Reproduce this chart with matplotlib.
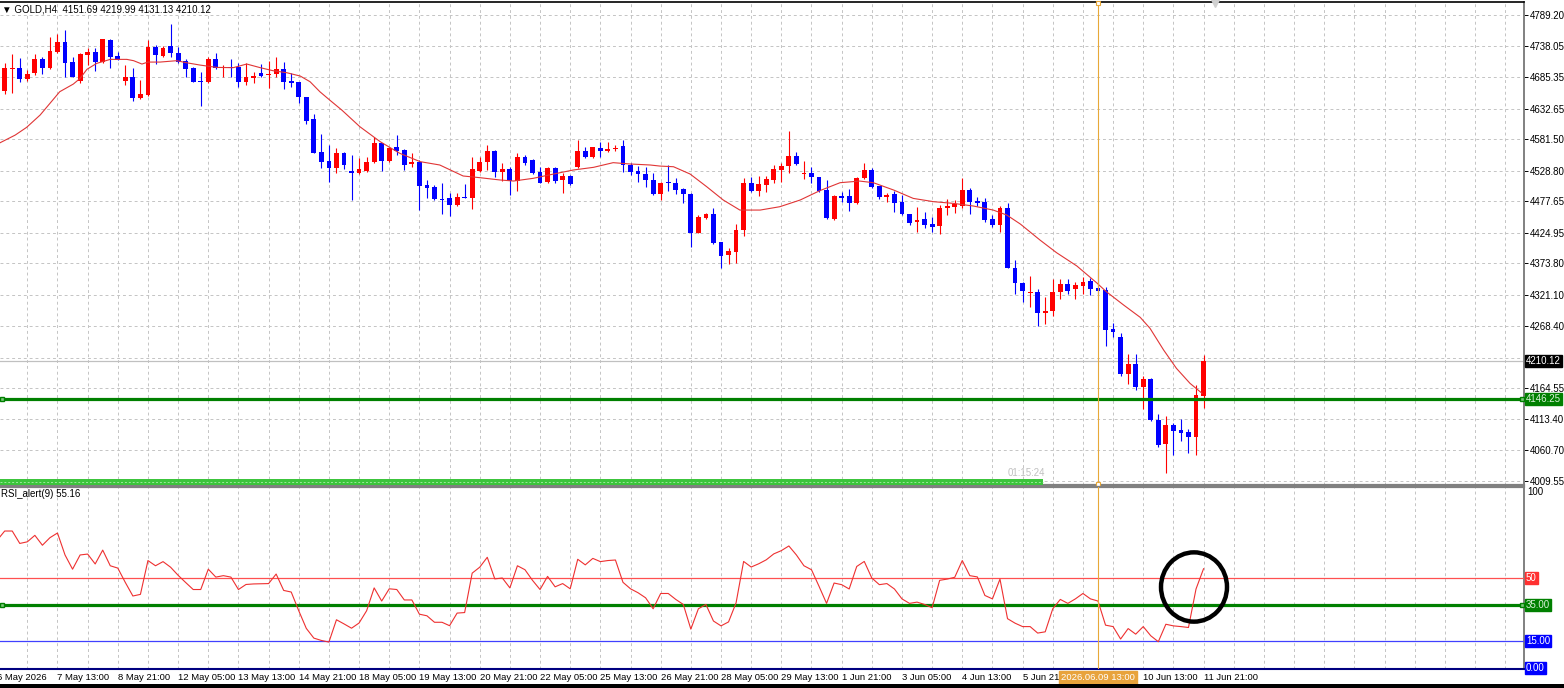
import numpy as np
import matplotlib
matplotlib.use('Agg')
import matplotlib.pyplot as plt
import matplotlib.transforms as mtransforms
from matplotlib.patches import Rectangle, Ellipse

plt.rcParams['font.family'] = ['Liberation Sans', 'DejaVu Sans']

# GOLD H4 candles (oldest first)
opens = [4662.0, 4698.8, 4701.1, 4682.1, 4691.6, 4715.0, 4700.0, 4727.8, 4744.6, 4710.6,
         4678.8, 4722.3, 4727.8, 4711.1, 4747.4, 4720.6, 4679.3, 4684.9, 4650.9, 4655.3,
         4736.2, 4720.6, 4737.3, 4726.2, 4712.8, 4700.0, 4678.8, 4676.5, 4715.0, 4700.0,
         4702.7, 4701.6, 4677.6, 4684.3, 4691.6, 4688.8, 4690.5, 4698.8, 4678.8, 4677.6,
         4651.4, 4614.6, 4559.4, 4545.5, 4532.7, 4558.9, 4528.8, 4524.3, 4528.8, 4542.7,
         4574.5, 4545.5, 4567.8, 4563.4, 4540.0, 4542.7, 4504.3, 4502.0, 4482.0, 4482.5,
         4471.4, 4485.3, 4482.5, 4528.2, 4543.9, 4562.3, 4527.1, 4531.0, 4511.5, 4551.1,
         4546.6, 4527.1, 4510.4, 4532.7, 4513.2, 4519.9, 4534.4, 4562.3, 4552.2, 4567.3,
         4562.3, 4564.5, 4570.1, 4538.3, 4528.2, 4523.2, 4513.1, 4489.7, 4510.3, 4507.5,
         4498.1, 4489.7, 4425.0, 4449.0, 4456.2, 4409.9, 4387.1, 4393.2, 4429.5, 4508.7,
         4495.3, 4504.7, 4513.1, 4529.8, 4536.5, 4553.3, 4523.2, 4525.4, 4517.6, 4496.4,
         4447.3, 4486.3, 4486.3, 4474.1, 4515.9, 4529.8, 4503.1, 4484.1, 4489.7, 4476.9,
         4456.2, 4443.4, 4447.3, 4439.5, 4436.2, 4465.7, 4468.5, 4469.6, 4496.4, 4478.5,
         4476.9, 4447.3, 4437.8, 4465.7, 4365.4, 4341.4, 4324.7, 4326.4, 4291.2, 4294.0,
         4326.4, 4339.2, 4330.8, 4336.4, 4344.8, 4331.9, 4329.1, 4263.3, 4251.1, 4188.6,
         4205.3, 4167.4, 4179.7, 4111.6, 4071.5, 4103.3, 4094.9, 4092.1, 4082.6, 4151.69]
highs = [4709.4, 4723.4, 4716.7, 4697.2, 4723.4, 4718.4, 4752.9, 4757.4, 4764.1, 4718.4,
         4725.1, 4733.4, 4733.4, 4749.6, 4748.5, 4727.8, 4705.6, 4700.0, 4680.4, 4747.4,
         4739.0, 4737.3, 4774.1, 4736.2, 4715.0, 4702.7, 4694.4, 4718.4, 4726.2, 4705.6,
         4715.0, 4709.4, 4708.3, 4693.3, 4707.2, 4712.2, 4718.4, 4711.1, 4691.6, 4677.6,
         4651.4, 4623.0, 4589.5, 4571.7, 4566.2, 4560.6, 4555.0, 4550.5, 4552.2, 4584.6,
         4575.6, 4569.0, 4588.5, 4564.5, 4558.9, 4546.6, 4513.2, 4504.8, 4507.6, 4492.0,
         4490.9, 4506.5, 4552.2, 4552.2, 4571.7, 4563.4, 4541.1, 4535.5, 4558.9, 4555.0,
         4547.8, 4534.4, 4534.4, 4535.5, 4524.3, 4521.0, 4580.1, 4569.0, 4569.0, 4577.3,
         4577.3, 4571.7, 4580.1, 4542.2, 4536.6, 4534.4, 4525.4, 4510.3, 4538.2, 4515.9,
         4499.2, 4490.8, 4454.6, 4457.3, 4465.7, 4409.9, 4398.8, 4439.5, 4515.9, 4517.6,
         4519.8, 4519.8, 4538.2, 4541.0, 4595.7, 4560.5, 4545.5, 4535.4, 4518.7, 4513.1,
         4487.5, 4493.6, 4497.5, 4517.6, 4542.1, 4532.6, 4503.1, 4490.8, 4495.3, 4488.0,
         4456.2, 4467.4, 4460.1, 4451.8, 4471.3, 4480.8, 4479.7, 4515.9, 4499.2, 4485.2,
         4482.4, 4454.6, 4469.6, 4475.2, 4379.3, 4343.1, 4352.6, 4330.3, 4316.9, 4347.0,
         4347.0, 4347.0, 4343.1, 4350.3, 4348.7, 4363.7, 4334.7, 4273.4, 4257.8, 4222.1,
         4222.1, 4185.3, 4181.4, 4121.7, 4118.3, 4107.2, 4112.8, 4096.0, 4170.2, 4219.99]
lows = [4657.0, 4659.2, 4677.6, 4679.3, 4688.8, 4690.5, 4698.3, 4725.1, 4686.0, 4684.9,
        4674.9, 4705.6, 4695.5, 4709.4, 4700.0, 4713.9, 4672.1, 4645.9, 4648.1, 4653.7,
        4706.7, 4718.4, 4718.4, 4708.3, 4686.0, 4676.5, 4636.9, 4674.9, 4698.3, 4686.0,
        4684.9, 4668.2, 4672.1, 4674.9, 4684.9, 4666.5, 4686.0, 4665.4, 4669.3, 4642.5,
        4606.3, 4558.9, 4532.6, 4510.3, 4524.3, 4531.0, 4479.7, 4523.2, 4527.1, 4541.1,
        4528.8, 4543.9, 4555.0, 4529.9, 4534.4, 4463.0, 4482.5, 4479.7, 4456.3, 4452.9,
        4470.2, 4482.5, 4464.1, 4527.1, 4529.9, 4518.8, 4511.5, 4488.1, 4495.3, 4538.3,
        4523.2, 4507.6, 4508.7, 4508.7, 4490.9, 4504.8, 4532.7, 4549.4, 4550.5, 4552.2,
        4560.6, 4562.3, 4527.1, 4521.5, 4510.4, 4500.9, 4488.0, 4479.7, 4495.3, 4489.7,
        4475.2, 4400.5, 4423.9, 4447.3, 4406.0, 4366.4, 4372.6, 4373.7, 4419.4, 4493.6,
        4486.3, 4493.6, 4508.7, 4510.3, 4524.3, 4538.2, 4514.2, 4507.5, 4493.6, 4447.9,
        4446.2, 4476.9, 4461.8, 4473.0, 4514.2, 4500.3, 4480.8, 4476.9, 4460.1, 4455.1,
        4437.8, 4426.7, 4432.2, 4426.7, 4422.8, 4454.6, 4458.5, 4465.7, 4455.7, 4469.6,
        4443.4, 4435.0, 4426.7, 4365.3, 4322.5, 4309.6, 4300.1, 4268.9, 4272.3, 4285.6,
        4313.5, 4322.5, 4313.5, 4322.5, 4320.8, 4322.5, 4235.5, 4249.9, 4185.3, 4171.9,
        4161.8, 4129.5, 4110.5, 4067.0, 4023.5, 4053.1, 4077.1, 4057.0, 4053.1, 4131.13]
closes = [4701.1, 4700.5, 4682.1, 4690.5, 4715.0, 4700.0, 4729.5, 4744.6, 4709.4, 4684.9,
          4723.9, 4727.8, 4711.1, 4748.5, 4718.4, 4713.9, 4684.9, 4649.8, 4657.0, 4736.2,
          4722.3, 4733.4, 4725.1, 4711.1, 4698.3, 4677.6, 4677.6, 4715.6, 4701.1, 4702.7,
          4700.0, 4677.6, 4684.9, 4687.7, 4687.7, 4690.5, 4698.8, 4677.6, 4676.0, 4651.4,
          4612.4, 4558.9, 4543.8, 4533.7, 4558.9, 4538.3, 4524.3, 4531.0, 4543.9, 4574.5,
          4545.5, 4566.2, 4562.3, 4538.3, 4542.7, 4503.1, 4500.4, 4480.8, 4479.7, 4471.4,
          4485.3, 4482.5, 4531.0, 4543.9, 4562.3, 4527.1, 4531.0, 4511.5, 4552.2, 4542.2,
          4524.3, 4508.7, 4532.7, 4512.1, 4519.9, 4506.5, 4562.3, 4552.2, 4567.8, 4562.3,
          4564.5, 4566.2, 4538.3, 4527.1, 4523.2, 4513.2, 4489.7, 4508.7, 4507.5, 4496.4,
          4489.7, 4425.0, 4450.7, 4456.2, 4407.1, 4386.0, 4394.3, 4429.5, 4508.7, 4495.3,
          4506.4, 4514.8, 4531.0, 4537.1, 4553.3, 4539.3, 4525.4, 4517.6, 4495.3, 4449.0,
          4486.3, 4483.6, 4474.1, 4515.9, 4529.8, 4502.0, 4484.1, 4488.0, 4475.2, 4456.2,
          4441.7, 4446.2, 4437.8, 4433.9, 4465.7, 4469.6, 4472.4, 4496.4, 4476.9, 4475.2,
          4446.2, 4437.8, 4465.7, 4365.3, 4341.4, 4328.0, 4326.4, 4291.2, 4294.6, 4326.4,
          4339.2, 4328.0, 4337.5, 4343.1, 4330.8, 4328.0, 4262.2, 4259.4, 4188.6, 4205.3,
          4167.4, 4179.7, 4111.6, 4069.8, 4103.3, 4093.8, 4090.4, 4082.6, 4153.5, 4210.12]

# moving average line, sampled along the curve (bar index, price)
ma_x = [-0.6, 1.4, 2.9, 4.7, 6.0, 7.3, 9.1, 10.0, 10.9, 12.2, 14.0, 15.3, 16.2, 17.1, 18.2,
        19.0, 20.6, 22.8, 24.1, 25.9, 28.1, 30.3, 32.1, 33.9, 35.6, 37.4, 39.2, 40.5, 41.8,
        43.1, 44.7, 47.1, 49.8, 52.4, 55.1, 57.7, 60.8, 63.0, 65.7, 67.5, 70.1, 72.8, 75.4,
        78.1, 80.7, 82.9, 85.6, 86.9, 88.7, 90.9, 93.1, 95.3, 97.5, 100.2, 102.8, 105.5,
        108.1, 110.8, 113.4, 115.2, 117.9, 120.5, 123.2, 125.8, 128.5, 131.1, 132.9, 134.7,
        137.3, 139.5, 142.2, 144.8, 146.1, 148.4, 150.6, 151.9, 153.7, 155.4, 157.2, 158.8]
ma_y = [4575.6, 4588.4, 4601.2, 4621.9, 4641.4, 4660.9, 4673.7, 4683.2, 4698.3, 4708.3,
        4715.0, 4715.0, 4715.0, 4712.8, 4707.2, 4710.5, 4710.5, 4712.8, 4709.4, 4705.5,
        4701.6, 4701.1, 4707.2, 4701.1, 4696.0, 4692.7, 4687.1, 4677.6, 4660.9, 4647.0,
        4630.3, 4602.4, 4577.3, 4557.8, 4543.9, 4538.3, 4519.9, 4517.1, 4513.2, 4511.5,
        4516.0, 4523.2, 4529.9, 4534.4, 4542.2, 4540.0, 4538.3, 4536.5, 4535.4, 4523.2,
        4502.0, 4479.7, 4462.9, 4462.9, 4468.5, 4479.7, 4495.3, 4508.7, 4511.4, 4508.7,
        4496.4, 4482.4, 4476.9, 4474.1, 4469.6, 4462.9, 4454.6, 4439.5, 4412.8, 4391.6,
        4369.3, 4341.4, 4326.4, 4304.0, 4283.4, 4265.0, 4228.8, 4198.1, 4173.0, 4156.3]

# RSI(9), one value per bar starting one bar before the first candle
rsi_first_bar = -1
rsi = [71.0, 76.1, 76.1, 69.2, 70.1, 73.7, 68.2, 72.4, 75.0, 62.8, 54.9, 62.8, 63.3, 57.8,
       65.5, 56.8, 55.5, 47.5, 40.0, 40.9, 59.7, 56.8, 59.1, 56.0, 51.5, 47.5, 43.6, 43.6,
       54.9, 50.5, 51.3, 50.5, 43.6, 46.4, 46.7, 46.8, 46.9, 52.2, 43.1, 42.2, 31.8, 22.0,
       16.6, 15.3, 14.4, 26.8, 24.5, 22.1, 25.0, 31.8, 44.5, 37.2, 44.0, 43.6, 37.8, 37.8,
       29.9, 29.0, 25.4, 25.4, 23.5, 30.5, 30.8, 52.7, 56.0, 61.5, 49.5, 50.0, 44.5, 56.8,
       54.6, 48.7, 43.6, 50.9, 45.1, 46.9, 44.0, 60.4, 57.3, 60.9, 59.1, 59.7, 60.0, 47.6,
       44.0, 41.8, 39.0, 32.9, 41.4, 41.4, 38.1, 35.3, 21.6, 32.9, 35.3, 26.1, 23.4, 25.6,
       36.2, 59.2, 56.1, 57.9, 60.1, 63.4, 65.2, 67.8, 62.8, 56.8, 54.6, 45.4, 35.9, 47.2,
       46.3, 43.9, 56.4, 59.2, 50.0, 46.3, 46.9, 43.9, 38.4, 35.9, 36.6, 35.3, 33.5, 48.7,
       49.4, 50.4, 59.7, 51.3, 50.6, 40.3, 38.4, 49.4, 27.4, 24.9, 23.0, 23.0, 19.4, 20.1,
       32.9, 38.1, 35.9, 38.4, 41.4, 38.4, 37.2, 23.8, 23.0, 16.1, 21.9, 18.8, 23.0, 17.9,
       14.6, 24.3, 23.4, 23.0, 22.5, 43.9, 55.16]

price_ticks = [4789.20, 4738.05, 4685.35, 4632.65, 4581.50, 4528.80, 4477.65, 4424.95,
               4373.80, 4321.10, 4268.40, 4215.70, 4164.55, 4113.40, 4060.70, 4009.55]

time_tick_bars = [-1, 7, 15, 23, 31, 39, 47, 55, 63, 71, 79, 87, 95, 103, 111, 119, 127, 135, 151, 159]
time_tick_labels = ['6 May 2026', '7 May 13:00', '8 May 21:00', '12 May 05:00', '13 May 13:00',
                    '14 May 21:00', '18 May 05:00', '19 May 13:00', '20 May 21:00', '22 May 05:00',
                    '25 May 13:00', '26 May 21:00', '28 May 05:00', '29 May 13:00', '1 Jun 21:00',
                    '3 Jun 05:00', '4 Jun 13:00', '5 Jun 21:00', '10 Jun 13:00', '11 Jun 21:00']

crosshair_bar = 145
crosshair_label = '2026.06.09 13:00'
hline_price = 4146.25
bid_price = 4210.12
timer_text = '01:15:24'
title = '\u25bc GOLD,H4  4151.69 4219.99 4131.13 4210.12'
rsi_title = 'RSI_alert(9) 55.16'

# ---- layout (pixels of the 1564x688 canvas)
W, H = 1564, 688
bar_px, first_px = 7.54, 4.7
plot_right = 1524

def bx(px):
    return (px - first_px) / bar_px

fig = plt.figure(figsize=(W / 100, H / 100), dpi=100)
ax = fig.add_axes([0, 1 - 485 / H, plot_right / W, 483 / H])
ax2 = fig.add_axes([0, 1 - 669 / H, plot_right / W, 182 / H])

xlim = (bx(0), bx(plot_right))
for a in (ax, ax2):
    a.set_xlim(*xlim)
    a.set_facecolor('white')
    a.spines['left'].set_visible(False)
    a.spines['right'].set_color('#808080')
    a.spines['right'].set_linewidth(1.4)
    a.set_xticks([])
    a.yaxis.tick_right()
    a.tick_params(axis='y', direction='out', length=3, width=0.7, pad=1.5,
                  labelsize=7, colors='black')
    # vertical dashed grid every 4 bars
    a.vlines(np.arange(3, 202, 4), 0, 1, transform=a.get_xaxis_transform(),
             colors='#c4c4c4', lw=0.7, linestyles=(0, (3, 3)), zorder=0)

ax.set_ylim(4002.9, 4811.0)
ax.spines['top'].set_color('black')
ax.spines['top'].set_linewidth(1.2)
ax.spines['bottom'].set_color('#808080')
ax.spines['bottom'].set_linewidth(1.6)
ax.set_yticks(price_ticks)
# the tick right under the bid tag is hidden by it, as in the terminal
ax.set_yticklabels(['' if abs(p - bid_price) < 15 else '%.2f' % p for p in price_ticks])
for p in price_ticks:
    ax.axhline(p, color='#c4c4c4', lw=0.7, ls=(0, (3, 3)), zorder=0)

ax2.set_ylim(-0.56, 100.56)
ax2.set_yticks([])
ax2.spines['top'].set_color('#808080')
ax2.spines['top'].set_linewidth(1.6)
ax2.spines['bottom'].set_color('#000080')
ax2.spines['bottom'].set_linewidth(1.5)

# ---- candles
o, h, l, c = (np.asarray(v, dtype=float) for v in (opens, highs, lows, closes))
x = np.arange(len(c))
col = np.where(c >= o, '#ff0000', '#0000ff')
ax.vlines(x, l, h, colors=col, lw=0.8, zorder=3)
ax.bar(x, np.maximum(np.abs(c - o), 1.4), bottom=np.minimum(o, c), width=0.64,
       color=col, lw=0, zorder=4)

ax.plot(ma_x, ma_y, color='#e03535', lw=0.8, zorder=5)

# horizontal lines on the price panel
ax.axhline(bid_price, color='#c0c0c0', lw=0.9, zorder=2)
ax.axhline(hline_price, color='#008000', lw=2.3, zorder=6)
ax.plot([bx(2), bx(plot_right - 2.5)], [hline_price] * 2, 's', ms=3.2, mfc='#7fc97f',
        mec='#008000', mew=1, zorder=7, clip_on=False)

# timer progress bar and text
ax.add_patch(Rectangle((xlim[0], 4002.9), bx(1043) - xlim[0], 9.5, fc='#3cc43c',
                       ec='none', zorder=6))
ax.plot([xlim[0], bx(1043)], [4007.6] * 2, color='#9be89b', lw=0.7,
        ls=(0, (2, 2)), zorder=7)
ax.text(bx(1045), 4023, timer_text, ha='right', va='center', fontsize=7,
        color='#c0c0c0', zorder=7)

ax.text(bx(2), 4811.0 - 8 * 1.673, title, ha='left', va='center', fontsize=7,
        color='black', zorder=8)
ax.plot([bx(1215)], [4808.5], 'v', ms=6, color='#d0d0d0', clip_on=False, zorder=8)

# ---- RSI panel
ax2.plot(np.arange(len(rsi)) + rsi_first_bar, rsi, color='#ee3030', lw=0.8, zorder=5)
ax2.axhline(50, color='#ff5050', lw=0.9, zorder=3)
ax2.axhline(35, color='#008000', lw=2.3, zorder=4)
ax2.axhline(15, color='#4040ff', lw=0.9, zorder=3)
ax2.plot([bx(2), bx(plot_right - 2.5)], [35] * 2, 's', ms=3.2, mfc='#7fc97f',
         mec='#008000', mew=1, zorder=7, clip_on=False)
ax2.text(bx(1), 96.5, rsi_title, ha='left', va='center', fontsize=7, color='black')

# hand drawn circle
ax2.add_patch(Ellipse((bx(1194), 45), 66 / bar_px, 38.5, angle=0, fill=False,
                      ec='black', lw=3.2, zorder=9))

# crosshair
for a in (ax, ax2):
    a.axvline(crosshair_bar, color='#e8a838', lw=0.8, zorder=6)
ax.plot([crosshair_bar] * 2, [4808.5, 4005.2], 's', ms=3.5, mfc='white', mec='#e8a838',
        mew=0.8, zorder=9, clip_on=False)

# right-hand value tags
def tag(a, y, text, face, fg='white'):
    a.annotate(text, xy=(1, y), xycoords=('axes fraction', 'data'), xytext=(2, 0),
               textcoords='offset pixels', ha='left', va='center', fontsize=7, color=fg,
               bbox=dict(boxstyle='square,pad=0.12', fc=face, ec=face),
               annotation_clip=False, zorder=10)

tag(ax, bid_price, '%.2f' % bid_price, 'black')
tag(ax, hline_price, '%.2f' % hline_price, '#008000', '#d8f0d8')
tag(ax2, 50, '50', '#ff3030')
tag(ax2, 35, '35.00', '#008000', '#d8f0d8')
tag(ax2, 15, '15.00', '#0000ff')
tag(ax2, 0, '0.00', '#0000ff')
ax2.annotate('100', xy=(1, 100.3), xycoords=('axes fraction', 'data'), xytext=(3, 0),
             textcoords='offset pixels', ha='left', va='top', fontsize=7,
             annotation_clip=False)

# ---- time axis
tt = mtransforms.blended_transform_factory(ax2.transData, fig.transFigure)
ty = 1 - 678 / H
for b, s in zip(time_tick_bars, time_tick_labels):
    ax2.text(b, ty, s, transform=tt, ha='left', va='center', fontsize=6.8, clip_on=False)
ax2.text(crosshair_bar, ty, crosshair_label, transform=tt, ha='center', va='center',
         fontsize=6.8, color='white', clip_on=False, zorder=10,
         bbox=dict(boxstyle='square,pad=0.25', fc='#e8a33c', ec='#e8a33c'))

fig.add_artist(Rectangle((0, 0), 1, 4 / H, transform=fig.transFigure, fc='black', ec='none'))

fig.savefig('out.png', dpi=100)
